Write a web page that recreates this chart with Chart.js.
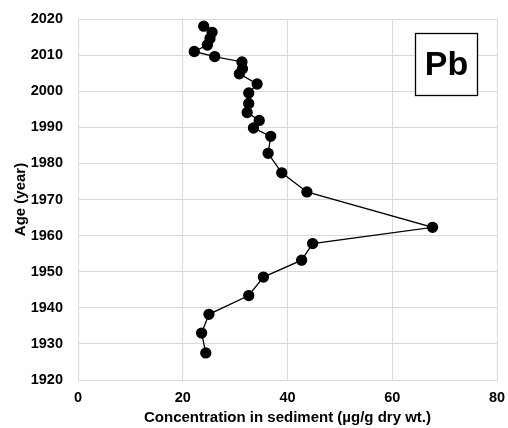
<!DOCTYPE html>
<html>
<head>
<meta charset="utf-8">
<script src="https://cdn.jsdelivr.net/npm/chart.js@4.4.0/dist/chart.umd.min.js"></script>
<style>
  html, body { margin: 0; padding: 0; background: #fff; }
  #wrap { width: 508px; height: 428px; position: relative; }
</style>
</head>
<body>
<div id="wrap"><canvas id="pbChart"></canvas></div>
<script>
// Pb concentration profile vs. sediment age
const concentration = [24.0, 25.6, 25.2, 24.7, 22.2, 26.1, 31.3, 31.4, 30.8, 34.2, 32.6, 32.6, 32.3, 34.6, 33.5,
                       36.8, 36.3, 38.9, 43.7, 67.7, 44.8, 42.7, 35.4, 32.6, 25.0, 23.6, 24.4];
const age = [2018.0, 2016.3, 2014.6, 2012.8, 2011.0, 2009.6, 2008.1, 2006.2, 2004.8, 2002.0, 1999.5, 1996.6, 1994.1, 1991.9, 1989.8,
             1987.5, 1982.8, 1977.4, 1972.1, 1962.3, 1957.8, 1953.2, 1948.5, 1943.4, 1938.2, 1933.0, 1927.5];
const elementLabel = 'Pb';
const xTitle = 'Concentration in sediment (\u00b5g/g dry wt.)';
const yTitle = 'Age (year)';

const FONT = 'Liberation Sans, Arial, sans-serif';

// draws the element label box in the upper right of the plot
const labelBox = {
    id: 'labelBox',
    afterDraw(chart) {
        const ctx = chart.ctx;
        const x0 = 415, y0 = 33, w = 62, h = 62;
        ctx.save();
        ctx.fillStyle = '#fff';
        ctx.fillRect(x0, y0, w, h);
        ctx.strokeStyle = '#000';
        ctx.lineWidth = 1.3;
        ctx.strokeRect(x0 + 0.5, y0 + 0.5, w, h);
        ctx.fillStyle = '#000';
        ctx.font = 'bold 34px ' + FONT;
        ctx.textAlign = 'center';
        ctx.textBaseline = 'middle';
        ctx.fillText(elementLabel, x0 + w / 2 + 0.5, y0 + h / 2 + 2);
        ctx.restore();
    }
};

const points = concentration.map((c, i) => ({ x: c, y: age[i] }));

new Chart(document.getElementById('pbChart'), {
    type: 'scatter',
    data: {
        datasets: [{
            data: points,
            showLine: true,
            borderColor: '#000',
            borderWidth: 1.3,
            backgroundColor: '#000',
            pointRadius: 5,
            pointHoverRadius: 5,
            tension: 0
        }]
    },
    options: {
        responsive: true,
        maintainAspectRatio: false,
        animation: false,
        layout: { padding: { top: 19, right: 11, left: 0, bottom: 0 } },
        plugins: {
            legend: { display: false },
            tooltip: { enabled: false }
        },
        scales: {
            x: {
                type: 'linear',
                min: 0, max: 80,
                ticks: { stepSize: 20, color: '#000', font: { family: FONT, size: 14.5, weight: 'bold' }, padding: 9 },
                grid: { color: '#d9d9d9', lineWidth: 1, drawTicks: false },
                border: { color: '#d9d9d9' },
                title: { display: true, text: xTitle, color: '#000', font: { family: FONT, size: 15, weight: 'bold' }, padding: { top: 0, bottom: 1 } },
                afterFit(scale) {
                    scale.height = 48;
                    scale.paddingLeft = 0;
                    scale.paddingRight = 0;
                }
            },
            y: {
                type: 'linear',
                min: 1920, max: 2020,
                ticks: {
                    stepSize: 10, color: '#000', font: { family: FONT, size: 14.5, weight: 'bold' }, padding: 15,
                    callback: (v) => String(v)
                },
                grid: { color: '#d9d9d9', lineWidth: 1, drawTicks: false },
                border: { color: '#d9d9d9' },
                title: { display: true, text: yTitle, color: '#000', font: { family: FONT, size: 15, weight: 'bold' }, padding: { top: 12, bottom: 0 } },
                afterFit(scale) {
                    scale.width = 78;
                    scale.paddingTop = 0;
                    scale.paddingBottom = 0;
                }
            }
        }
    },
    plugins: [labelBox]
});
</script>
</body>
</html>
